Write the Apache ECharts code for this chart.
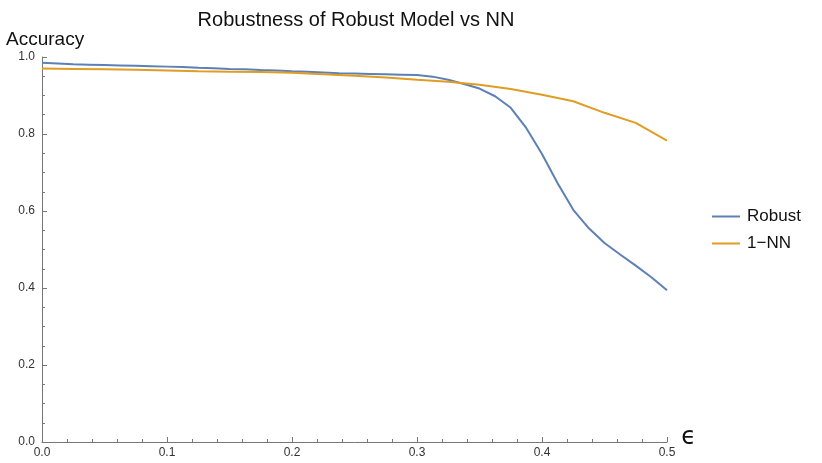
<!DOCTYPE html>
<html>
<head>
<meta charset="utf-8">
<script src="https://cdn.jsdelivr.net/npm/echarts@6/dist/echarts.min.js"></script>
<style>
  html, body { margin: 0; padding: 0; background: #fff; }
  #chart { width: 822px; height: 463px; }
</style>
</head>
<body>
<div id="chart"></div>
<script>
// epsilon grid used for the robust model curve
const robustEps = [
  0, 0.0125, 0.025, 0.0375, 0.05, 0.0625, 0.075, 0.0875, 0.1, 0.1125,
  0.125, 0.1375, 0.15, 0.1625, 0.175, 0.1875, 0.2, 0.2125, 0.225, 0.2375,
  0.25, 0.2625, 0.275, 0.2875, 0.3, 0.3125, 0.325, 0.3375, 0.35, 0.3625,
  0.375, 0.3875, 0.4, 0.4125, 0.425, 0.4375, 0.45, 0.4625, 0.475, 0.4875, 0.5
];
const robustAcc = [
  0.985, 0.983, 0.981, 0.980, 0.979, 0.978, 0.977, 0.976, 0.975, 0.974,
  0.972, 0.971, 0.969, 0.968, 0.966, 0.965, 0.963, 0.962, 0.960, 0.958,
  0.957, 0.956, 0.955, 0.954, 0.953, 0.949, 0.941, 0.930, 0.918, 0.898,
  0.868, 0.815, 0.748, 0.672, 0.603, 0.555, 0.517, 0.487, 0.458, 0.428, 0.394
];

const nnEps = [
  0, 0.025, 0.05, 0.075, 0.1, 0.125, 0.15, 0.175, 0.2, 0.225, 0.25,
  0.275, 0.3, 0.325, 0.35, 0.375, 0.4, 0.425, 0.45, 0.475, 0.5
];
const nnAcc = [
  0.970, 0.969, 0.968, 0.967, 0.965, 0.963, 0.962, 0.961, 0.959, 0.955, 0.951,
  0.947, 0.941, 0.936, 0.928, 0.917, 0.902, 0.885, 0.855, 0.829, 0.783
];

const seriesNames = ["Robust", "1\u2212NN"];
const seriesColors = ["#5E81B5", "#E19C24"];

const zip = (xs, ys) => xs.map((x, i) => [x, ys[i]]);

const chart = echarts.init(document.getElementById("chart"));

const axisGray = "#777";
const labelGray = "#333";

chart.setOption({
  backgroundColor: "#fff",
  animation: false,
  title: [
    {
      text: "Robustness of Robust Model vs NN",
      left: 351,
      top: 5,
      textAlign: "center",
      textStyle: { fontFamily: "Liberation Sans", fontSize: 20, fontWeight: "normal", color: "#111" }
    },
    {
      text: "Accuracy",
      left: 1,
      top: 25,
      textStyle: { fontFamily: "Liberation Sans", fontSize: 19, fontWeight: "normal", color: "#111" }
    }
  ],
  legend: {
    orient: "vertical",
    left: 707,
    top: 203,
    icon: "rect",
    itemWidth: 28,
    itemHeight: 2,
    itemGap: 10,
    textStyle: { fontFamily: "Liberation Sans", fontSize: 17, color: "#111", padding: [0, 0, 0, 2] },
    data: seriesNames
  },
  grid: { left: 42, right: 155, top: 57, bottom: 21 },
  xAxis: {
    type: "value",
    min: 0,
    max: 0.5,
    interval: 0.1,
    name: "\u03f5",
    nameLocation: "end",
    nameGap: 6,
    nameTextStyle: {
      fontFamily: "DejaVu Sans",
      fontSize: 24,
      color: "#111",
      verticalAlign: "bottom",
      padding: [0, 0, -8, 0]
    },
    axisLine: { lineStyle: { color: axisGray, width: 1 } },
    axisTick: { inside: true, length: 5, lineStyle: { color: axisGray } },
    minorTick: { show: true, splitNumber: 5, length: 3, lineStyle: { color: axisGray } },
    splitLine: { show: false },
    axisLabel: {
      color: labelGray,
      fontFamily: "Liberation Sans",
      fontSize: 12,
      margin: 5,
      formatter: (v) => v.toFixed(1)
    }
  },
  yAxis: {
    type: "value",
    min: 0,
    max: 1,
    interval: 0.2,
    axisLine: { show: true, lineStyle: { color: axisGray, width: 1 } },
    axisTick: { show: true, inside: true, length: 5, lineStyle: { color: axisGray } },
    minorTick: { show: true, splitNumber: 4, length: 3, lineStyle: { color: axisGray } },
    splitLine: { show: false },
    axisLabel: {
      color: labelGray,
      fontFamily: "Liberation Sans",
      fontSize: 12,
      margin: 7,
      formatter: (v) => v.toFixed(1)
    }
  },
  series: [
    {
      name: seriesNames[0],
      type: "line",
      symbol: "none",
      color: seriesColors[0],
      lineStyle: { width: 2, color: seriesColors[0] },
      data: zip(robustEps, robustAcc)
    },
    {
      name: seriesNames[1],
      type: "line",
      symbol: "none",
      color: seriesColors[1],
      lineStyle: { width: 2, color: seriesColors[1] },
      data: zip(nnEps, nnAcc)
    }
  ]
});
</script>
</body>
</html>
